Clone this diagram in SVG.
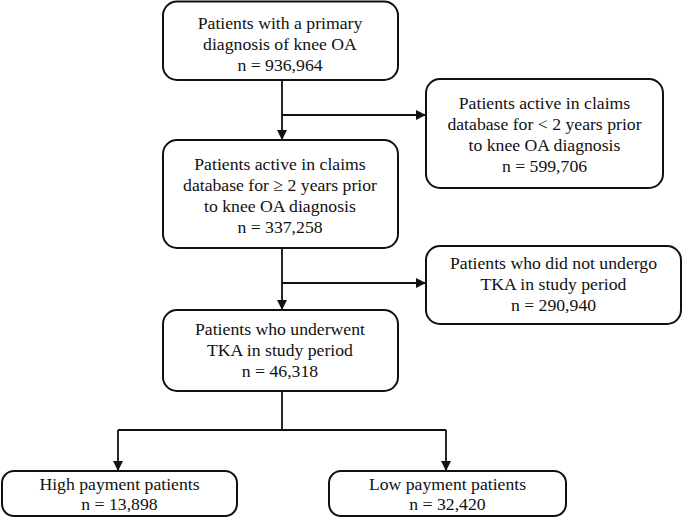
<svg xmlns="http://www.w3.org/2000/svg" width="683" height="517" viewBox="0 0 683 517">
<style>
.box{fill:#fff;stroke:#111;stroke-width:2}
.t{font-family:"Liberation Serif","Times New Roman",serif;font-size:17.7px;fill:#111;text-anchor:middle}
.c{fill:none;stroke:#111;stroke-width:1.8}
</style>
<defs>
<marker id="ah" viewBox="0 0 10 10" refX="10" refY="5" markerWidth="10" markerHeight="10" markerUnits="userSpaceOnUse" orient="auto">
<path d="M0,0 L10,5 L0,10 Z" fill="#111"/>
</marker>
</defs>
<rect width="683" height="517" fill="#fff"/>
<g id="connectors">
<path class="c" d="M282,80 V140" marker-end="url(#ah)"/>
<path class="c" d="M282,115 H426" marker-end="url(#ah)"/>
<path class="c" d="M282,248 V310" marker-end="url(#ah)"/>
<path class="c" d="M282,283 H426" marker-end="url(#ah)"/>
<path class="c" d="M282,391 V430"/>
<path class="c" d="M118,430 H446"/>
<path class="c" d="M118,430 V471" marker-end="url(#ah)"/>
<path class="c" d="M446,430 V471" marker-end="url(#ah)"/>
</g>
<g id="n1">
<rect class="box" x="163" y="1.5" width="235" height="78.5" rx="14"/>
<text class="t" x="280" y="29">Patients with a primary</text>
<text class="t" x="280" y="50">diagnosis of knee OA</text>
<text class="t" x="280" y="71">n = 936,964</text>
</g>
<g id="n2">
<rect class="box" x="426" y="79" width="237" height="109" rx="14"/>
<text class="t" x="544.5" y="109">Patients active in claims</text>
<text class="t" x="544.5" y="130">database for &lt; 2 years prior</text>
<text class="t" x="544.5" y="151">to knee OA diagnosis</text>
<text class="t" x="544.5" y="172">n = 599,706</text>
</g>
<g id="n3">
<rect class="box" x="163" y="140" width="235" height="108" rx="14"/>
<text class="t" x="280" y="170">Patients active in claims</text>
<text class="t" x="280" y="191">database for ≥ 2 years prior</text>
<text class="t" x="280" y="212">to knee OA diagnosis</text>
<text class="t" x="280" y="233">n = 337,258</text>
</g>
<g id="n4">
<rect class="box" x="426" y="246" width="255" height="78" rx="14"/>
<text class="t" x="553.5" y="269">Patients who did not undergo</text>
<text class="t" x="553.5" y="290">TKA in study period</text>
<text class="t" x="553.5" y="311">n = 290,940</text>
</g>
<g id="n5">
<rect class="box" x="163" y="310" width="235" height="81" rx="14"/>
<text class="t" x="280" y="335">Patients who underwent</text>
<text class="t" x="280" y="356">TKA in study period</text>
<text class="t" x="280" y="377">n = 46,318</text>
</g>
<g id="n6">
<rect class="box" x="2" y="471" width="235" height="45" rx="12"/>
<text class="t" x="119.5" y="490">High payment patients</text>
<text class="t" x="119.5" y="510">n = 13,898</text>
</g>
<g id="n7">
<rect class="box" x="329" y="471" width="237" height="45" rx="12"/>
<text class="t" x="447.5" y="490">Low payment patients</text>
<text class="t" x="447.5" y="510">n = 32,420</text>
</g>
</svg>
